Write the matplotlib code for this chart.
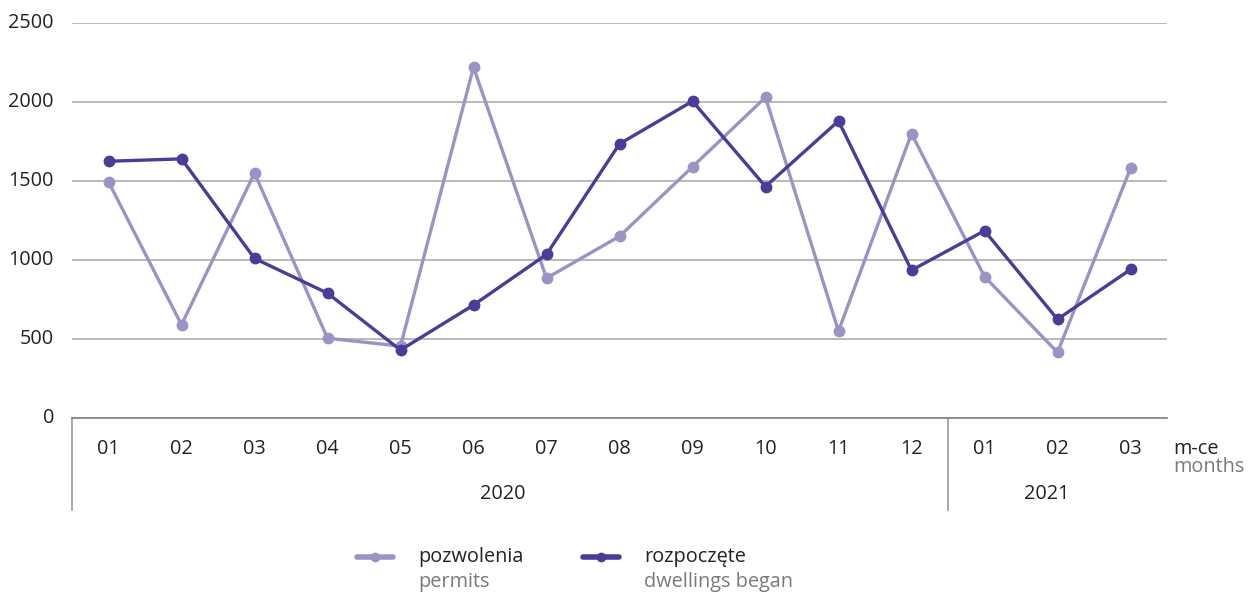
import matplotlib.pyplot as plt
from matplotlib.lines import Line2D
from matplotlib.transforms import blended_transform_factory

plt.rcParams['font.family'] = ['Open Sans', 'DejaVu Sans']

# dane
miesiace = ['01', '02', '03', '04', '05', '06', '07', '08', '09', '10', '11', '12', '01', '02', '03']
lata = ['2020', '2021']
pozwolenia = [1495, 590, 1550, 505, 455, 2220, 885, 1150, 1590, 2030, 550, 1800, 895, 415, 1580]
rozpoczete = [1625, 1640, 1010, 790, 430, 715, 1035, 1735, 2005, 1465, 1880, 935, 1185, 625, 940]

jasny = '#9d92c6'
ciemny = '#4c3b97'
szary = '#7a7a7a'
fs = 14.3

fig = plt.figure(figsize=(12.49, 5.95), dpi=100)
ax = fig.add_axes([72/1249, 177/595, 1095/1249, 395/595])

x = list(range(len(miesiace)))
ax.plot(x, pozwolenia, color=jasny, lw=2.4, marker='o', ms=7.5, zorder=3)
ax.plot(x, rozpoczete, color=ciemny, lw=2.4, marker='o', ms=7.5, zorder=4)

ax.set_xlim(-0.5, len(miesiace) - 0.5)
ax.set_ylim(0, 2500)
ax.set_yticks(range(0, 2501, 500))
ax.yaxis.grid(True, color='#a6a6a6', lw=1.1)
ax.set_axisbelow(True)
for s in ['top', 'right', 'left']:
    ax.spines[s].set_visible(False)
ax.spines['bottom'].set_color('#808080')
ax.spines['bottom'].set_linewidth(1.2)
ax.tick_params(axis='y', length=0, pad=13, labelsize=fs, labelcolor='#222222')
ax.set_xticks([])
for lab in ax.get_yticklabels():
    lab.set_verticalalignment('center')

# opisy osi x
tr = blended_transform_factory(ax.transData, ax.transAxes)
dol = -92 / 395
for i, m in enumerate(miesiace):
    ax.text(i, -31/395, m, transform=tr, ha='center', va='center', fontsize=fs, color='#222222')
ax.text(5.4, -76/395, lata[0], transform=tr, ha='center', va='center', fontsize=fs, color='#222222')
ax.text(12.85, -76/395, lata[1], transform=tr, ha='center', va='center', fontsize=fs, color='#222222')
for xv in [-0.5, 11.5]:
    ax.add_line(Line2D([xv, xv], [0, dol], transform=tr, color='#9a9a9a', lw=1.2, clip_on=False))
ax.text(14.58, -31/395, 'm-ce', transform=tr, ha='left', va='center', fontsize=fs, color='#222222')
ax.text(14.58, -49/395, 'months', transform=tr, ha='left', va='center', fontsize=fs, color=szary)

# legenda
def wpis(x0, kolor, pl, en):
    y0 = 1 - 557/595
    fig.add_artist(Line2D([x0/1249, (x0+36)/1249], [y0, y0], color=kolor, lw=4, solid_capstyle='round'))
    fig.add_artist(Line2D([(x0+18)/1249], [y0], color=kolor, marker='o', ms=6))
    fig.text((x0+61)/1249, y0, pl, ha='left', va='center', fontsize=fs, color='#222222')
    fig.text((x0+61)/1249, 1 - 582/595, en, ha='left', va='center', fontsize=fs, color=szary)

wpis(357, jasny, 'pozwolenia', 'permits')
wpis(583, ciemny, 'rozpoczęte', 'dwellings began')

plt.savefig('out.png', dpi=100)
